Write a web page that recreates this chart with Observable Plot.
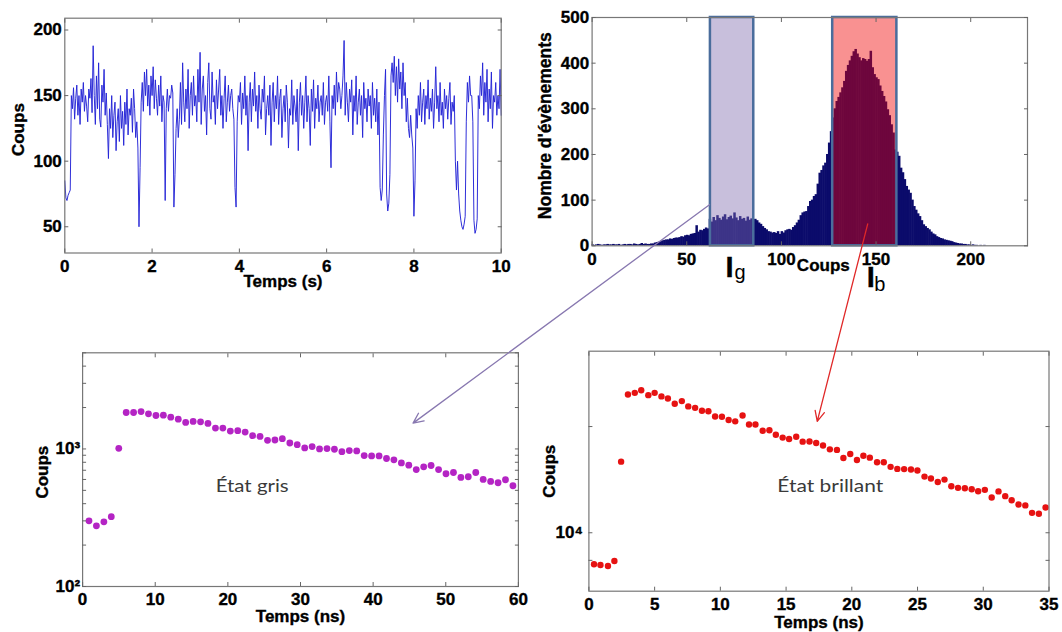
<!DOCTYPE html>
<html><head><meta charset="utf-8">
<script src="https://cdn.jsdelivr.net/npm/d3@7"></script>
<script src="https://cdn.jsdelivr.net/npm/@observablehq/plot@0.6"></script>
<style>
body{margin:0;background:#fff;}
#fig{position:relative;width:1062px;height:632px;overflow:hidden;background:#fff;}
.panel{position:absolute;}
.panel svg{overflow:visible;display:block;}
</style></head><body><div id="fig"></div>
<script>
// ---------- DATA ----------
// Time trace (top-left): one value every traceStep seconds, from t = 0 to 10 s
const traceStep = 0.025;
const traceCounts = [
 85,72,70,74,76,78,150,140,156,132,148,158,135,150,128,155,145,160,138,150,
 142,130,155,148,163,137,188,150,128,165,140,175,132,126,158,145,170,135,152,128,
 102,140,125,150,118,135,145,108,130,140,115,150,125,138,112,145,128,155,120,140,
 135,148,122,155,140,118,130,110,50,95,145,160,138,168,150,170,142,158,135,165,
 150,172,140,162,148,135,158,142,165,130,150,145,70,140,155,138,150,148,158,152,
 65,90,125,140,118,132,160,128,175,145,130,155,140,170,125,150,160,135,165,142,
 150,130,170,145,183,128,155,165,138,150,120,160,175,140,132,168,145,150,128,162,
 140,155,170,135,150,125,148,165,130,145,158,138,150,155,140,132,80,65,130,150,
 145,160,128,152,140,165,135,150,108,145,160,130,155,142,168,138,150,125,158,140,
 132,155,145,165,120,140,150,135,158,112,145,160,130,150,140,165,128,148,155,118,
 140,150,130,158,145,110,140,135,162,128,150,142,130,155,108,145,160,135,150,125,
 145,165,130,150,140,112,155,138,162,125,148,140,158,130,145,150,135,160,128,145,
 150,138,165,130,95,150,140,158,135,168,145,160,155,140,150,165,192,135,160,145,
 130,155,145,162,120,150,138,165,128,145,155,135,150,118,160,140,148,130,155,142,
 150,125,160,135,148,130,155,120,145,80,70,78,120,150,170,75,62,68,90,165,
 175,160,180,150,172,145,178,155,168,140,175,150,160,130,148,125,118,135,120,110,
 58,85,140,125,150,135,160,130,145,155,128,150,140,162,132,148,138,155,125,145,
 172,140,150,130,160,135,145,125,155,140,150,132,148,160,128,145,138,150,100,78,
 100,75,62,55,50,48,52,58,130,160,145,165,150,150,130,55,45,48,56,150,
 140,165,150,175,135,160,145,170,130,155,140,168,125,150,145,160,135,150,140,170,135
];
const traceXTicks = [0, 2, 4, 6, 8, 10];
const traceYTicks = [50, 100, 150, 200];

// Histogram (top-right): bins of width 1 count, starting at 0
const histBinWidth = 1;
const histCounts = [
 2,1,2,3,2,1,2,2,3,2,
 2,3,2,2,3,1,2,3,2,3,
 3,2,4,3,2,3,5,3,4,3,
 3,4,4,6,7,8,9,11,12,13,
 13,15,14,16,17,17,18,20,19,22,
 23,22,25,26,27,44,30,34,33,36,
 39,37,58,52,62,55,66,60,56,63,
 68,57,62,65,59,72,61,55,64,58,
 60,54,63,56,59,57,58,55,50,47,
 42,38,35,31,30,28,29,27,31,25,
 31,28,33,35,36,34,40,44,50,56,
 66,72,74,75,86,97,100,108,112,135,
 159,165,175,181,200,225,250,280,300,316,
 325,335,346,360,382,395,405,415,425,430,
 420,412,405,410,408,404,408,426,390,375,
 368,364,350,338,327,315,298,285,265,247,
 210,205,196,170,160,145,130,122,115,100,
 86,78,70,64,55,46,42,38,35,30,
 26,24,20,18,16,15,13,12,11,10,
 9,7,6,5,4,4,3,3,2,2,
 1,2,1,1,0,1,0,1,0,0
];
const histXTicks = [0, 50, 100, 150, 200];
const histYTicks = [0, 100, 200, 300, 400, 500];
const windowNames = ["g", "b"];          // I_g (grey state), I_b (bright state)
const windowStart = [62.5, 127.1];
const windowEnd = [85.4, 161];
const windowColors = ["#806aae", "#f00000"];

// Decay, grey state (bottom-left)
const greyTimes = [0.88,1.9,2.93,3.95,4.98,6.0,7.02,8.05,9.07,10.1,11.12,12.14,13.17,14.19,15.22,16.24,17.26,18.29,19.31,20.34,21.36,22.38,23.41,24.43,25.46,26.48,27.5,28.53,29.55,30.58,31.6,32.62,33.65,34.67,35.7,36.72,37.74,38.77,39.79,40.82,41.84,42.86,43.89,44.91,45.94,46.96,47.98,49.01,50.03,51.06,52.08,53.1,54.13,55.15,56.18,57.2,58.22,59.25];
const greyCounts = [300,276,295,322,1011,1841,1841,1870,1800,1750,1760,1703,1647,1558,1584,1575,1533,1418,1418,1349,1357,1327,1248,1234,1155,1162,1188,1105,1075,1017,1040,1000,1006,995,956,973,967,895,890,890,852,833,792,762,708,741,758,708,660,674,621,628,674,600,581,568,597,540];
const greyXTicks = [0, 10, 20, 30, 40, 50, 60];
const greyYTicks = [100, 1000];
const greyYMinor = [200,300,400,500,600,700,800,900,2000,3000,4000,5000];

// Decay, bright state (bottom-right)
const brightTimes = [0.39,0.88,1.45,1.94,2.45,2.97,3.49,3.98,4.52,5.0,5.52,6.01,6.53,7.07,7.56,8.08,8.6,9.09,9.6,10.12,10.63,11.13,11.69,12.18,12.67,13.22,13.73,14.22,14.74,15.23,15.77,16.26,16.78,17.29,17.81,18.33,18.87,19.36,19.88,20.39,20.88,21.37,21.92,22.43,22.95,23.46,23.98,24.5,24.99,25.53,26.02,26.54,27.05,27.57,28.08,28.6,29.12,29.61,30.12,30.64,31.16,31.67,32.16,32.68,33.2,33.71,34.23,34.74];
const brightCounts = [8867,8844,8809,8977,13120,16950,17060,17230,16910,17060,16830,16700,16360,16530,16200,16110,15930,15900,15590,15570,15380,15300,15650,15120,15120,14760,14790,14540,14380,14300,14430,14160,14170,14090,13950,13750,13720,13300,13510,13200,13420,13320,13090,13090,12860,12760,12750,12730,12680,12390,12300,12140,12250,11940,11870,11850,11810,11720,11780,11440,11710,11500,11320,11140,11100,10790,10750,11010];
const brightXTicks = [0, 5, 10, 15, 20, 25, 30, 35];
const brightYTicks = [10000];
const brightYMinor = [9000, 15000];

// Arrow anchors: from a histogram window to the matching decay panel
const arrowFrom = [[62, 90], [145.6, 48]];      // (Coups, events) in histogram
const arrowTo = [[45.5, 1541], [17.37, 15300]]; // (ns, Coups) in decay panels
const arrowColors = ["#8878b0", "#e02828"];

// ---------- STYLE ----------
const FONT = "Liberation Sans, Arial, Helvetica, sans-serif";
const tickFont = {fontFamily: FONT, fontSize: 17, fontWeight: "bold", fill: "#000"};
const titleFont = {fontFamily: FONT, fontSize: 17, fontWeight: "bold", fill: "#000", lineAnchor: "middle", textAnchor: "middle"};
const frameColor = "#777";
const tickColor = "#666";

function box({xTicks, yTicks, yMinor = [], xPad, yPad, yFormat}) {
  const tk = {tickSize: -4, tickFormat: () => "", label: null, stroke: tickColor};
  const yAll = yTicks.concat(yMinor);
  return [
    Plot.frame({stroke: frameColor, strokeWidth: 1.2}),
    Plot.axisX(xTicks, {anchor: "bottom", ...tk}),
    Plot.axisX(xTicks, {anchor: "top", ...tk}),
    Plot.axisY(yAll, {anchor: "left", ...tk}),
    Plot.axisY(yAll, {anchor: "right", ...tk}),
    Plot.axisX(xTicks, {anchor: "bottom", tickSize: 0, tickPadding: xPad, label: null, ...tickFont}),
    Plot.axisY(yTicks, {anchor: "left", tickSize: 0, tickPadding: yPad, label: null, tickFormat: yFormat, ...tickFont})
  ];
}
const baseStyle = {background: "transparent", color: "#000", fontFamily: FONT, fontWeight: "bold", fontSize: "17px", overflow: "visible"};

const fig = document.getElementById("fig");
function place(node, left, top) {
  const d = document.createElement("div");
  d.className = "panel";
  d.style.left = left + "px"; d.style.top = top + "px";
  d.appendChild(node); fig.appendChild(d);
  // heavy bold Arial-like text everywhere except the marks flagged "plain"
  node.querySelectorAll("text").forEach(t => {
    if (t.closest(".plain")) return;
    t.style.fontWeight = "700";
    t.style.fontFamily = FONT;
    t.style.stroke = "#000";
    t.style.strokeWidth = "0.35px";
  });
  return node;
}

// ---------- PANEL A: time trace ----------
const traceData = traceCounts.map((v, i) => ({t: i * traceStep, v}));
const plotA = Plot.plot({
  width: 520, height: 300,
  marginLeft: 64.3, marginRight: 19.3, marginTop: 17.7, marginBottom: 47.5,
  x: {domain: [0, 10]}, y: {domain: [30, 209]},
  style: baseStyle,
  marks: [
    Plot.line(traceData, {x: "t", y: "v", stroke: "#2424d6", strokeWidth: 0.95}),
    ...box({xTicks: traceXTicks, yTicks: traceYTicks, xPad: 6.5, yPad: 3}),
    Plot.text(["Temps (s)"], {text: d => d, frameAnchor: "bottom", dy: 28.5, ...titleFont}),
    Plot.text(["Coups"], {text: d => d, frameAnchor: "left", dx: -45.8, dy: -6, rotate: -90, ...titleFont})
  ]
});
place(plotA, 0, 0);

// ---------- PANEL B: histogram ----------
const histData = histCounts.map((n, i) => ({x0: i * histBinWidth, x1: (i + 1) * histBinWidth, n}));
const windows = windowNames.map((name, i) => ({name, x1: windowStart[i], x2: windowEnd[i], mid: (windowStart[i] + windowEnd[i]) / 2, color: windowColors[i]}));
// pixel offsets of the "I" and subscript glyphs relative to each window centre / frame bottom
const bigOff = [[-2.5, 31.4], [6, 41.5]];
const subOff = [[8, 33], [15, 45]];
const plotB = Plot.plot({
  width: 542, height: 300,
  marginLeft: 71.6, marginRight: 35, marginTop: 17, marginBottom: 54.7,
  x: {domain: [0, 230]}, y: {domain: [0, 500]},
  style: baseStyle,
  marks: [
    Plot.rect(histData, {x1: "x0", x2: "x1", y1: 0, y2: "n", fill: "#0b0b6b", insetLeft: -0.3, insetRight: -0.3}),
    ...windows.map(w => Plot.rect([w], {x1: "x1", x2: "x2", y1: 0, y2: 500, fill: w.color, fillOpacity: 0.43, stroke: "#4a6d9c", strokeWidth: 2.5})),
    ...box({xTicks: histXTicks, yTicks: histYTicks, xPad: 6.7, yPad: 3}),
    Plot.text(["Coups"], {text: d => d, frameAnchor: "bottom", dx: 13.5, dy: 19.7, ...titleFont}),
    Plot.text(["Nombre d'évènements"], {text: d => d, frameAnchor: "left", dx: -46.6, dy: -6, rotate: -90, ...titleFont, fontSize: 17.5}),
    ...windows.map((w, i) => Plot.text([w], {x: "mid", text: () => "I", frameAnchor: "bottom", lineAnchor: "bottom", textAnchor: "middle", dx: bigOff[i][0], dy: bigOff[i][1], fontFamily: FONT, fontSize: 29, fontWeight: "bold", fill: "#000"})),
    ...windows.map((w, i) => Plot.text([w], {x: "mid", text: "name", frameAnchor: "bottom", lineAnchor: "bottom", textAnchor: "middle", dx: subOff[i][0], dy: subOff[i][1], fontFamily: FONT, fontSize: 20, fontWeight: "normal", fill: "#000", className: "plain"}))
  ]
});
place(plotB, 520, 0);

// ---------- PANEL C: grey-state decay ----------
const greyData = greyTimes.map((t, i) => ({t, v: greyCounts[i]}));
const supers = {100: "10²", 1000: "10³", 10000: "10⁴"};
const plotC = Plot.plot({
  width: 530, height: 312,
  marginLeft: 82.1, marginRight: 12.1, marginTop: 32.3, marginBottom: 46,
  x: {domain: [0, 60]}, y: {type: "log", domain: [100, 5000]},
  style: baseStyle,
  marks: [
    Plot.dot(greyData, {x: "t", y: "v", r: 3.4, fill: "#b424c4", stroke: "none"}),
    ...box({xTicks: greyXTicks, yTicks: greyYTicks, yMinor: greyYMinor, xPad: 6, yPad: 2.5, yFormat: d => supers[d]}),
    Plot.text(["Temps (ns)"], {text: d => d, frameAnchor: "bottom", dy: 30, ...titleFont}),
    Plot.text(["Coups"], {text: d => d, frameAnchor: "left", dx: -40, dy: 2.5, rotate: -90, ...titleFont}),
    Plot.text(["État gris"], {text: d => d, frameAnchor: "middle", lineAnchor: "bottom", textAnchor: "middle", dx: -48.3, dy: 22.5, fontFamily: "Lato, Open Sans, sans-serif", fontSize: 18, fontWeight: "normal", fill: "#3a3a3a", className: "plain etat-g"})
  ]
});
place(plotC, 0, 320);

// ---------- PANEL D: bright-state decay ----------
const brightData = brightTimes.map((t, i) => ({t, v: brightCounts[i]}));
const plotD = Plot.plot({
  width: 532, height: 312,
  marginLeft: 58.4, marginRight: 13.5, marginTop: 30.7, marginBottom: 41.3,
  x: {domain: [0, 35]}, y: {type: "log", domain: [8000, 20000]},
  style: baseStyle,
  marks: [
    Plot.dot(brightData, {x: "t", y: "v", r: 3.2, fill: "#e61212", stroke: "none"}),
    ...box({xTicks: brightXTicks, yTicks: brightYTicks, yMinor: brightYMinor, xPad: 6.8, yPad: 6, yFormat: d => supers[d]}),
    Plot.text(["Temps (ns)"], {text: d => d, frameAnchor: "bottom", dy: 31.5, ...titleFont}),
    Plot.text(["Coups"], {text: d => d, frameAnchor: "left", dx: -39, dy: 0, rotate: -90, ...titleFont}),
    Plot.text(["État brillant"], {text: d => d, frameAnchor: "middle", lineAnchor: "bottom", textAnchor: "middle", dx: 11.3, dy: 21, fontFamily: "Lato, Open Sans, sans-serif", fontSize: 18, fontWeight: "normal", fill: "#3a3a3a", className: "plain etat-b"})
  ]
});
place(plotD, 530, 320);
{
  const a = plotC.querySelector(".etat-g text"); if (a) { a.setAttribute("textLength", 73); a.setAttribute("lengthAdjust", "spacingAndGlyphs"); }
  const b = plotD.querySelector(".etat-b text"); if (b) { b.setAttribute("textLength", 106); b.setAttribute("lengthAdjust", "spacingAndGlyphs"); }
}

// ---------- OVERLAY: arrows linking histogram windows to decays ----------
const targets = [[plotC, 0, 320], [plotD, 530, 320]];
const arrowData = arrowFrom.map((f, i) => {
  const [p, ox, oy] = targets[i];
  return {
    x1: 520 + plotB.scale("x").apply(f[0]), y1: plotB.scale("y").apply(f[1]),
    x2: ox + p.scale("x").apply(arrowTo[i][0]), y2: oy + p.scale("y").apply(arrowTo[i][1]),
    color: arrowColors[i]
  };
});
const overlay = Plot.plot({
  width: 1062, height: 632, margin: 0,
  x: {type: "identity", axis: null}, y: {type: "identity", axis: null},
  style: {background: "transparent", overflow: "visible"},
  marks: arrowData.map(d => Plot.arrow([d], {x1: "x1", y1: "y1", x2: "x2", y2: "y2", stroke: d.color, strokeWidth: 1.3, headLength: 13, headAngle: 50}))
});
const ov = place(overlay, 0, 0);
ov.parentNode.style.pointerEvents = "none";
</script></body></html>
